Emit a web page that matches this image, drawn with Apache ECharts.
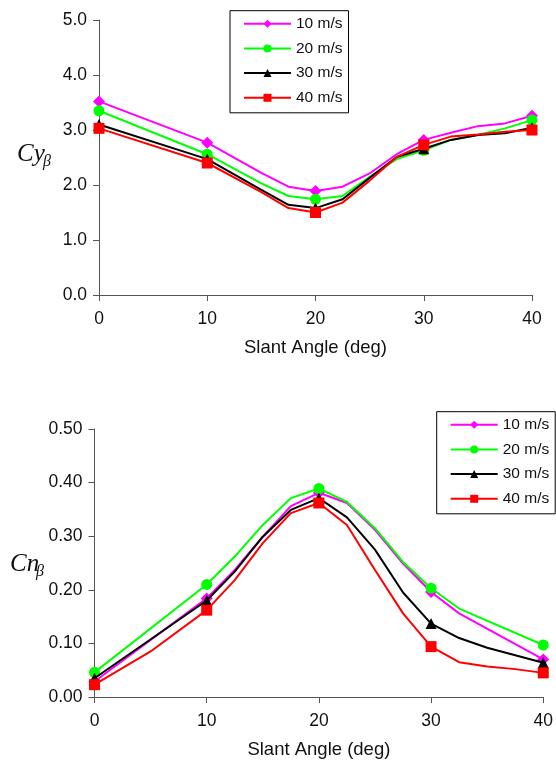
<!DOCTYPE html>
<html>
<head>
<meta charset="utf-8">
<script src="https://cdn.jsdelivr.net/npm/echarts@6/dist/echarts.min.js"></script>
<style>
  html, body { margin: 0; padding: 0; background: #fff; }
  #chart { width: 556px; height: 762px; }
</style>
</head>
<body>
<div id="chart"></div>
<script>
// Slant angle sample positions (deg); null = no reading at that angle
const angles = [0, 2.5, 5, 7.5, 10, 12.5, 15, 17.5, 20, 22.5, 25, 27.5, 30, 32.5, 35, 37.5, 40];
// angles that carry a marker
const markerAngles = [0, 10, 20, 30, 40];
const speeds = ['10 m/s', '20 m/s', '30 m/s', '40 m/s'];

// Side-force derivative Cy_beta
const cy10 = [3.52, null, null, null, 2.77, null, 2.22, 1.97, 1.89, 1.97, 2.21, 2.56, 2.82, 2.95, 3.07, 3.12, 3.26];
const cy20 = [3.35, null, null, null, 2.56, null, 2.03, 1.80, 1.74, 1.80, 2.15, 2.47, 2.63, 2.82, 2.91, 3.03, 3.18];
const cy30 = [3.10, null, null, null, 2.47, null, 1.91, 1.64, 1.58, 1.74, 2.13, 2.51, 2.66, 2.82, 2.91, 2.94, 3.04];
const cy40 = [3.03, null, null, null, 2.40, null, 1.87, 1.58, 1.50, 1.68, 2.08, 2.51, 2.73, 2.88, 2.92, 2.97, 3.00];

// Yawing-moment derivative Cn_beta
const cn10 = [0.029, null, null, null, 0.184, 0.237, 0.299, 0.356, 0.381, 0.362, 0.312, 0.249, 0.196, 0.156, null, null, 0.070];
const cn20 = [0.046, null, null, null, 0.210, 0.262, 0.321, 0.371, 0.389, 0.364, 0.315, 0.252, 0.203, 0.165, null, null, 0.097];
const cn30 = [0.035, null, null, null, 0.180, 0.234, 0.299, 0.349, 0.371, 0.335, 0.275, 0.195, 0.137, 0.110, 0.092, 0.078, 0.064];
const cn40 = [0.023, null, 0.085, null, 0.162, 0.218, 0.287, 0.343, 0.362, 0.321, 0.237, 0.156, 0.094, 0.065, 0.057, 0.052, 0.045];

const colors = ['#ff00ff', '#00ff00', '#000000', '#ff0000'];
const symbols = ['diamond', 'circle', 'triangle', 'rect'];
const symbolSizes = [12, 11, 11, 11];

const FONT = 'Liberation Sans, Arial, sans-serif';
const AXIS_COLOR = '#555';

function toPoints(values) {
  const pts = [];
  angles.forEach(function (a, i) {
    const v = values[i];
    if (v == null) return;
    if (markerAngles.indexOf(a) >= 0) pts.push([a, v]);
    else pts.push({ value: [a, v], symbol: 'none' });
  });
  return pts;
}

function makeSeries(sets, axisIndex) {
  return sets.map(function (vals, k) {
    return {
      type: 'line',
      name: speeds[k],
      xAxisIndex: axisIndex,
      yAxisIndex: axisIndex,
      data: toPoints(vals),
      symbol: symbols[k],
      symbolSize: symbolSizes[k],
      showAllSymbol: true,
      lineStyle: { color: colors[k], width: 2 },
      itemStyle: { color: colors[k] },
      z: 2 + k,
      animation: false
    };
  });
}

function xAxis(gridIndex, nameGap) {
  return {
    gridIndex: gridIndex,
    type: 'value',
    min: 0, max: 40, interval: 10,
    name: 'Slant Angle (deg)',
    nameLocation: 'middle',
    nameGap: nameGap,
    nameTextStyle: { fontFamily: FONT, fontSize: 18.5, color: '#111' },
    axisLine: { show: true, onZero: false, lineStyle: { color: AXIS_COLOR, width: 1 } },
    axisTick: { show: true, length: 6, lineStyle: { color: AXIS_COLOR } },
    axisLabel: { fontFamily: FONT, fontSize: 17.5, color: '#111', margin: 15 },
    splitLine: { show: false }
  };
}

function yAxis(gridIndex, max, interval, digits) {
  return {
    gridIndex: gridIndex,
    type: 'value',
    min: 0, max: max, interval: interval,
    axisLine: { show: true, lineStyle: { color: AXIS_COLOR, width: 1 } },
    axisTick: { show: true, length: 6, lineStyle: { color: AXIS_COLOR } },
    axisLabel: {
      fontFamily: FONT, fontSize: 17.5, color: '#111', margin: 12,
      formatter: function (v) { return v.toFixed(digits); }
    },
    splitLine: { show: false }
  };
}

function legend(left, top) {
  return {
    data: speeds,
    orient: 'vertical',
    left: left,
    top: top,
    itemWidth: 47,
    itemHeight: 10,
    itemGap: 8.7,
    padding: [5, 6, 7, 13],
    borderColor: '#000',
    borderWidth: 1,
    backgroundColor: '#fff',
    selectedMode: false,
    textStyle: { fontFamily: FONT, fontSize: 15.5, color: '#111' }
  };
}

function axisSymbol(x, y, main, sub) {
  const serif = 'Liberation Serif, Times New Roman, serif';
  return [
    { type: 'text', left: x, top: y, style: { text: main, font: 'italic 25px ' + serif, fill: '#111' } },
    { type: 'text', left: x + 26, top: y + 12, style: { text: sub, font: 'italic 16px ' + serif, fill: '#111' } }
  ];
}

const chart = echarts.init(document.getElementById('chart'), null, { renderer: 'canvas' });
chart.setOption({
  backgroundColor: '#fff',
  animation: false,
  grid: [
    { left: 99, top: 20, width: 433, height: 275 },
    { left: 94.5, top: 429, width: 449.2, height: 268 }
  ],
  xAxis: [xAxis(0, 43), xAxis(1, 43)],
  yAxis: [yAxis(0, 5, 1, 1), yAxis(1, 0.5, 0.1, 2)],
  legend: [legend(230, 10.7), legend(436.7, 411.7)],
  graphic: axisSymbol(17, 142, 'Cy', 'β').concat(axisSymbol(10, 552, 'Cn', 'β')),
  series: makeSeries([cy10, cy20, cy30, cy40], 0).concat(makeSeries([cn10, cn20, cn30, cn40], 1))
});
</script>
</body>
</html>
